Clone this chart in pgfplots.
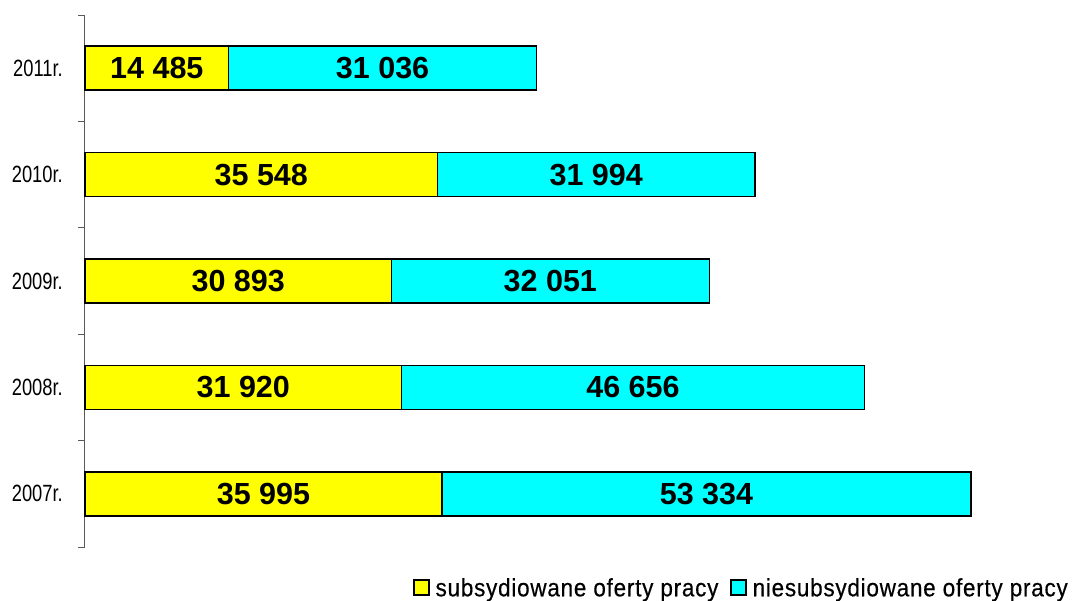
\documentclass[border=0pt]{standalone}
\usepackage{pgfplots}
\pgfplotsset{compat=1.18}
\usepackage{pgfplotstable}
\usepackage{fontspec}
\setmainfont{Liberation Sans}
\newfontfamily\narrowfont[FakeStretch=0.78]{Liberation Sans}
\newfontfamily\legfont[FakeStretch=0.9,LetterSpace=3,FakeBold=0.4]{Liberation Sans}
\definecolor{barY}{HTML}{FFFF00}
\definecolor{barC}{HTML}{00FFFF}
\pgfplotstableread[col sep=comma]{
y,a,b,la,lb
0,35995,53334,35 995,53 334
1,31920,46656,31 920,46 656
2,30893,32051,30 893,32 051
3,35548,31994,35 548,31 994
4,14485,31036,14 485,31 036
}\datatable
\begin{document}
\begin{tikzpicture}
\useasboundingbox (-85bp,-54bp) rectangle (988bp,547bp);
\begin{axis}[
  at={(0,0)}, anchor=south west,
  scale only axis, width=972bp, height=532bp,
  xmin=0, xmax=98000, ymin=-0.5, ymax=4.5,
  axis x line=none,
  axis y line*=left,
  y axis line style={draw=black!65, line width=1bp},
  ytick={0,1,2,3,4},
  yticklabels={2007r.,2008r.,2009r.,2010r.,2011r.},
  minor ytick={-0.5,0.5,1.5,2.5,3.5,4.5},
  major tick length=0pt, minor tick length=7bp,
  tick align=outside,
  minor tick style={draw=black!65, line width=1bp},
  yticklabel style={font=\narrowfont\fontsize{23.5bp}{25bp}\selectfont, inner sep=0pt, xshift=-22bp},
  clip=false,
  legend columns=2,
  legend style={at={(1.0134,-0.0996)}, anchor=south east, draw=none, inner sep=0pt,
    font=\legfont\fontsize{25bp}{27bp}\selectfont,
    /tikz/every odd column/.append style={column sep=4bp},
    /tikz/every even column/.append style={column sep=10bp}},
  legend image code/.code={\draw[#1, line width=1.2bp] (0bp,-7bp) rectangle (15bp,8bp);},
]
\addlegendimage{fill=barY, draw=black}
\addlegendentry{subsydiowane oferty pracy}
\addlegendimage{fill=barC, draw=black}
\addlegendentry{niesubsydiowane oferty pracy}
\addplot[xbar, bar width=44bp, bar shift=0pt, fill=barC, draw=black, line width=1.5bp, forget plot]
  table[x expr=\thisrow{a}+\thisrow{b}, y=y] {\datatable};
\addplot[xbar, bar width=44bp, bar shift=0pt, fill=barY, draw=black, line width=1.5bp, forget plot]
  table[x=a, y=y] {\datatable};
\addplot[draw=none, mark=none, forget plot, nodes near coords, point meta=explicit symbolic,
  every node near coord/.style={anchor=center, font=\bfseries\fontsize{30.5bp}{32bp}\selectfont}]
  table[x expr=\thisrow{a}/2, y=y, meta=la] {\datatable};
\addplot[draw=none, mark=none, forget plot, nodes near coords, point meta=explicit symbolic,
  every node near coord/.style={anchor=center, font=\bfseries\fontsize{30.5bp}{32bp}\selectfont}]
  table[x expr=\thisrow{a}+\thisrow{b}/2, y=y, meta=lb] {\datatable};
\end{axis}
\end{tikzpicture}
\end{document}
